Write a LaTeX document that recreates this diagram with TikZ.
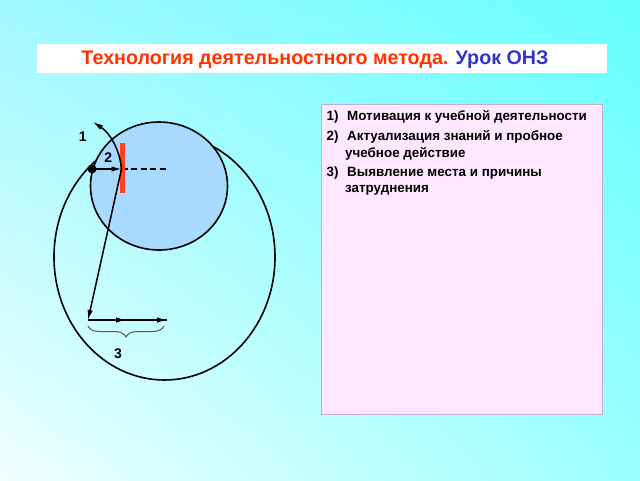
\documentclass[tikz,border=0pt]{standalone}
\usepackage{fontspec}
\setmainfont{Liberation Sans}
\usetikzlibrary{shapes.geometric,arrows.meta,decorations.pathreplacing,shadings}
\definecolor{bgTR}{RGB}{102,255,255}
\definecolor{bgTL}{RGB}{160,248,255}
\definecolor{bgBL}{RGB}{240,255,255}
\definecolor{bgBR}{RGB}{156,255,255}
\definecolor{titlered}{RGB}{255,51,0}
\definecolor{titleblue}{RGB}{51,51,204}
\definecolor{pinkfill}{RGB}{255,232,255}
\definecolor{pinkborder}{RGB}{200,168,216}
\definecolor{circfill}{RGB}{168,218,255}
\definecolor{barred}{RGB}{255,64,32}
\definecolor{bracegray}{RGB}{90,90,90}
\tikzset{
  outline/.style={draw=black,line width=1.6pt,inner sep=0pt,ellipse},
  conn/.style={line width=1.5pt,-{Latex[length=10pt,width=5.5pt]}},
  midarrow/.style={line width=1.5pt},
  lbl/.style={font=\fontsize{14}{14}\selectfont\bfseries,inner sep=0pt},
  itemtxt/.style={font=\fontsize{13.4}{13.4}\selectfont\bfseries,inner sep=0pt,anchor=base west},
}
\begin{document}
\begin{tikzpicture}[x=1pt,y=-1pt]
\useasboundingbox (0,0) rectangle (640,480);
\shade[upper left=bgTL,upper right=bgTR,lower left=bgBL,lower right=bgBR] (0,0) rectangle (640,480);
% title
\node[fill=white,minimum width=570pt,minimum height=29.5pt,inner sep=0pt,anchor=north west] (titlebox) at (37,43.3) {};
\node[anchor=base,inner sep=0pt,font=\fontsize{19.7}{19.7}\selectfont\bfseries] (title) at (315,64)
  {\textcolor{titlered}{Технология деятельностного метода.} \textcolor{titleblue}{Урок ОНЗ}};
% pink box
\node[fill=pinkfill,draw=pinkborder,line width=1pt,minimum width=281.5pt,minimum height=310pt,inner sep=0pt,anchor=north west] (pinkbox) at (320.7,104) {};
\node[itemtxt] (i1) at (326.5,120) {1)};
\node[itemtxt] (t1) at (347,120) {Мотивация к учебной деятельности};
\node[itemtxt] (i2) at (326.5,140) {2)};
\node[itemtxt] (t2) at (347,140) {Актуализация знаний и пробное};
\node[itemtxt] (t2b) at (345,157.3) {учебное действие};
\node[itemtxt] (i3) at (326.5,176.7) {3)};
\node[itemtxt] (t3) at (347,176.7) {Выявление места и причины};
\node[itemtxt] (t3b) at (345,192.7) {затруднения};
% circles
\node[outline,minimum width=221pt,minimum height=246pt] (big) at (164.5,257) {};
\node[outline,fill=circfill,minimum width=137pt,minimum height=128pt] (small) at (159,186) {};
% coordinates
\coordinate (hit) at (121.5,169);
\coordinate (dashend) at (167,169);
\coordinate (arcend) at (93,122);
\coordinate (low) at (88,320);
\coordinate (midpt) at (126,320);
\coordinate (rend) at (167,320);
% dashed line
\draw[line width=1.5pt,dash pattern=on 6pt off 3.5pt] (hit) -- (dashend);
% red bar
\node[fill=barred,minimum width=4.5pt,minimum height=50pt,inner sep=0pt] (bar) at (122.7,168) {};
% arrows
\node[circle,fill=black,minimum size=9pt,inner sep=0pt] (dot) at (92,169) {};
\draw[conn] (dot.center) -- (hit);
\draw[conn] (hit) .. controls (120,150) and (110,133) .. (arcend);
\draw[conn] (hit) -- (low);
\draw[midarrow] (low) -- (rend);
\draw[conn] (low) -- (midpt);
\draw[conn] (low) -- (rend);
% brace
\draw[bracegray,line width=1pt,decorate,decoration={brace,mirror,amplitude=11pt}] (88,326) -- (164,326) coordinate (bracer);
\node[lbl] (l1) at (82.7,136.7) {1};
\node[lbl] (l2) at (108.3,157.7) {2};
\node[lbl] (l3) at (118,354) {3};
\end{tikzpicture}
\end{document}
